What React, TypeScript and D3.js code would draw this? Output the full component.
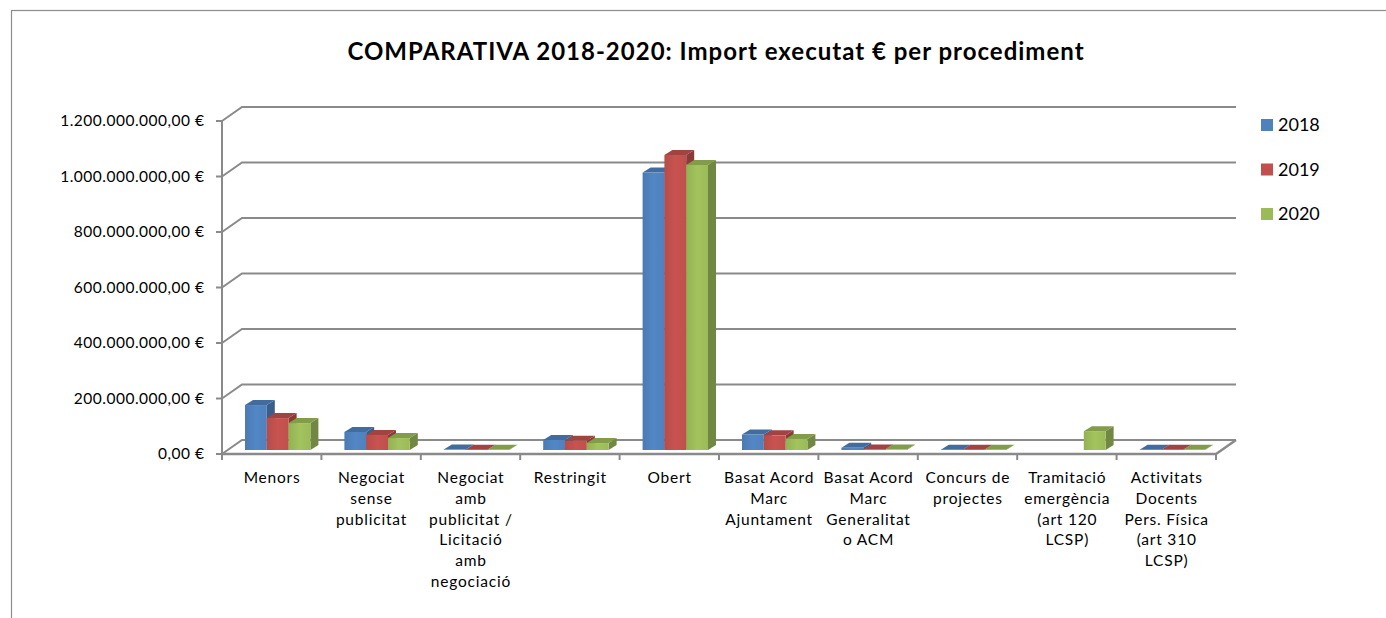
import React, { useEffect, useRef } from "react";
import * as d3 from "d3";

const title = "COMPARATIVA 2018-2020: Import executat € per procediment";

const categories = [
    "Menors",
    "Negociat sense publicitat",
    "Negociat amb publicitat / Licitació amb negociació",
    "Restringit",
    "Obert",
    "Basat Acord Marc Ajuntament",
    "Basat Acord Marc Generalitat o ACM",
    "Concurs de projectes",
    "Tramitació emergència (art 120 LCSP)",
    "Activitats Docents Pers. Física (art 310 LCSP)",
];

// how Excel wrapped the category labels
const categoryLines = [
    ["Menors"],
    ["Negociat", "sense", "publicitat"],
    ["Negociat", "amb", "publicitat /", "Licitació", "amb", "negociació"],
    ["Restringit"],
    ["Obert"],
    ["Basat Acord", "Marc", "Ajuntament"],
    ["Basat Acord", "Marc", "Generalitat", "o ACM"],
    ["Concurs de", "projectes"],
    ["Tramitació", "emergència", "(art 120", "LCSP)"],
    ["Activitats", "Docents", "Pers. Física", "(art 310", "LCSP)"],
];

const seriesNames = ["2018", "2019", "2020"];
const seriesColors = ["#4F81BD", "#C0504D", "#9BBB59"];

const values2018 = [162e6, 65e6, 1.5e6, 36e6, 1000e6, 56e6, 8e6, 1e6, 0, 0.6e6];
const values2019 = [115e6, 54e6, 1.2e6, 33e6, 1063e6, 53e6, 2e6, 1e6, 0, 0.6e6];
const values2020 = [97e6, 43e6, 1e6, 25e6, 1027e6, 40e6, 1.5e6, 0.8e6, 68e6, 0.6e6];

const yTicks = [0, 200e6, 400e6, 600e6, 800e6, 1000e6, 1200e6];
const yTickLabels = [
    "0,00 €",
    "200.000.000,00 €",
    "400.000.000,00 €",
    "600.000.000,00 €",
    "800.000.000,00 €",
    "1.000.000.000,00 €",
    "1.200.000.000,00 €",
];

const App: React.FC = () => {
    const svgRef = useRef<SVGSVGElement>(null);

    const width = 1386;
    const height = 618;

    useEffect(() => {
        if (!svgRef.current) return;
        const svg = d3.select(svgRef.current);
        svg.selectAll("*").remove();

        const font = "Lato, 'Open Sans', sans-serif";
        const gridColor = "#8a8a8a";

        // front plane of the 3D box
        const x0 = 222;
        const x1 = 1216;
        const depthX = 20;
        const depthY = -14;
        // bars sit a little behind the front plane
        const barOffX = 6;
        const barOffY = -4;
        const barDepthX = 8;
        const barDepthY = -5;

        const xScale = d3.scaleBand<string>().domain(categories).range([x0, x1]).padding(0);
        const inner = d3
            .scaleBand<string>()
            .domain(seriesNames)
            .range([17, xScale.bandwidth() - 17])
            .padding(0);
        const yScale = d3.scaleLinear().domain([0, 1200e6]).range([454, 121]);

        // outer frame
        svg.append("rect")
            .attr("x", 11.5)
            .attr("y", 10.5)
            .attr("width", 1500)
            .attr("height", 700)
            .attr("fill", "white")
            .attr("stroke", "#8c8c8c")
            .attr("stroke-width", 1.2);

        // title
        svg.append("text")
            .attr("x", 716)
            .attr("y", 60)
            .attr("text-anchor", "middle")
            .attr("font-family", font)
            .attr("font-weight", "bold")
            .attr("font-size", 24)
            .attr("letter-spacing", 1)
            .attr("fill", "#000")
            .text(title);

        // gridlines on back wall + side wall
        const grid = svg.append("g");
        yTicks.forEach((t) => {
            const yf = yScale(t);
            grid.append("path")
                .attr(
                    "d",
                    `M${x0},${yf}L${x0 + depthX},${yf + depthY}L${x1 + depthX},${yf + depthY}`
                )
                .attr("fill", "none")
                .attr("stroke", gridColor)
                .attr("stroke-width", 2);
            grid.append("line")
                .attr("x1", x0 - 6)
                .attr("x2", x0)
                .attr("y1", yf)
                .attr("y2", yf)
                .attr("stroke", gridColor)
                .attr("stroke-width", 2);
        });

        // floor front edge and right edge
        const y0 = yScale(0);
        grid.append("path")
            .attr("d", `M${x0},${y0}L${x1},${y0}L${x1 + depthX},${y0 + depthY}`)
            .attr("fill", "none")
            .attr("stroke", gridColor)
            .attr("stroke-width", 2.5);

        // vertical axis
        grid.append("line")
            .attr("x1", x0)
            .attr("x2", x0)
            .attr("y1", yScale(1200e6))
            .attr("y2", y0)
            .attr("stroke", gridColor)
            .attr("stroke-width", 2);

        // category ticks
        const bounds = categories.map((c) => xScale(c) as number).concat([x1]);
        bounds.forEach((bx) => {
            grid.append("line")
                .attr("x1", bx)
                .attr("x2", bx)
                .attr("y1", y0)
                .attr("y2", y0 + 6)
                .attr("stroke", gridColor)
                .attr("stroke-width", 2);
        });

        // y tick labels
        svg.append("g")
            .selectAll("text")
            .data(yTicks)
            .enter()
            .append("text")
            .attr("x", 204.5)
            .attr("y", (d) => yScale(d))
            .attr("dy", "0.35em")
            .attr("text-anchor", "end")
            .attr("font-family", font)
            .attr("font-size", 15.5)
            .attr("letter-spacing", 0.5)
            .attr("fill", "#000")
            .text((d, i) => yTickLabels[i]);

        // category labels
        const catG = svg.append("g");
        categories.forEach((c, i) => {
            const cx = (xScale(c) as number) + xScale.bandwidth() / 2 + 0.4;
            const t = catG
                .append("text")
                .attr("text-anchor", "middle")
                .attr("font-family", font)
                .attr("font-size", 15.5)
                .attr("letter-spacing", 0.8)
                .attr("fill", "#000");
            categoryLines[i].forEach((line, k) => {
                t.append("tspan")
                    .attr("x", cx)
                    .attr("y", 483 + k * 20.8)
                    .text(line);
            });
        });

        // bars
        const allValues = [values2018, values2019, values2020];
        const defs = svg.append("defs");
        seriesColors.forEach((col, j) => {
            const g = defs
                .append("linearGradient")
                .attr("id", `front${j}`)
                .attr("x1", 0)
                .attr("x2", 1)
                .attr("y1", 0)
                .attr("y2", 0);
            g.append("stop").attr("offset", "0%").attr("stop-color", d3.color(col)!.darker(0.15).toString());
            g.append("stop").attr("offset", "50%").attr("stop-color", d3.color(col)!.brighter(0.12).toString());
            g.append("stop").attr("offset", "100%").attr("stop-color", col);
        });

        const barsG = svg.append("g");
        categories.forEach((c, i) => {
            seriesNames.forEach((s, j) => {
                const v = allValues[j][i];
                if (!v) return;
                const bx = (xScale(c) as number) + (inner(s) as number) + barOffX;
                const bw = inner.bandwidth();
                const yt = yScale(v) + barOffY;
                const yb = y0 + barOffY;
                const col = d3.color(seriesColors[j])!;
                barsG.append("path")
                    .attr(
                        "d",
                        `M${bx + bw},${yt}L${bx + bw + barDepthX},${yt + barDepthY}L${bx + bw + barDepthX},${yb + barDepthY}L${bx + bw},${yb}Z`
                    )
                    .attr("fill", col.darker(0.9).toString());
                barsG.append("path")
                    .attr(
                        "d",
                        `M${bx},${yt}L${bx + barDepthX},${yt + barDepthY}L${bx + bw + barDepthX},${yt + barDepthY}L${bx + bw},${yt}Z`
                    )
                    .attr("fill", col.darker(0.5).toString());
                barsG.append("rect")
                    .attr("x", bx)
                    .attr("y", yt)
                    .attr("width", bw)
                    .attr("height", Math.max(0, yb - yt))
                    .attr("fill", `url(#front${j})`);
            });
        });

        // legend
        const legend = svg.append("g");
        seriesNames.forEach((s, j) => {
            const ly = 125 + j * 44.5;
            legend.append("rect")
                .attr("x", 1261)
                .attr("y", ly - 6)
                .attr("width", 12)
                .attr("height", 12)
                .attr("fill", seriesColors[j]);
            legend.append("text")
                .attr("x", 1278)
                .attr("y", ly)
                .attr("dy", "0.36em")
                .attr("font-family", font)
                .attr("font-size", 18)
                .attr("fill", "#000")
                .text(s);
        });
    }, []);

    return (
        <>
            <style>{`body{margin:0;overflow:hidden;}`}</style>
            <svg ref={svgRef} width={width} height={height} style={{ display: "block" }} />
        </>
    );
};

export default App;
